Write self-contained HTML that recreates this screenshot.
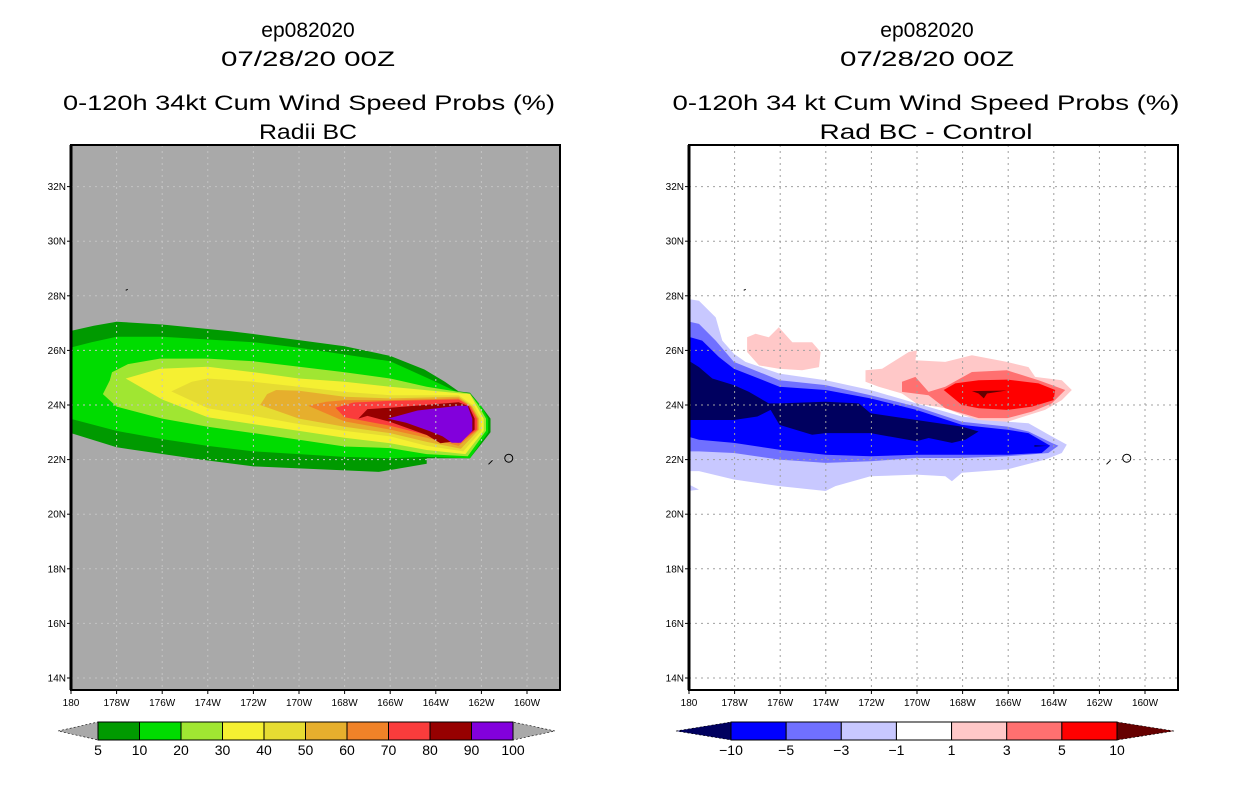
<!DOCTYPE html>
<html><head><meta charset="utf-8"><style>
html,body{margin:0;padding:0;background:#fff;}
svg{display:block;font-family:"Liberation Sans",sans-serif;}
</style></head><body>
<svg id="chart" width="1236" height="800" viewBox="0 0 1236 800" xmlns="http://www.w3.org/2000/svg">
<defs>
<clipPath id="clipL"><rect x="71" y="145" width="489" height="545"/></clipPath>
<clipPath id="clipR"><rect x="689" y="145" width="489" height="545"/></clipPath>
</defs>
<g id="titles" font-size="21" text-anchor="middle" fill="#000">
<text x="308" y="37">ep082020</text>
<text x="308" y="66" textLength="174" lengthAdjust="spacingAndGlyphs">07/28/20 00Z</text>
<text x="309" y="110" textLength="492" lengthAdjust="spacingAndGlyphs">0-120h 34kt Cum Wind Speed Probs (%)</text>
<text x="308" y="139" textLength="98" lengthAdjust="spacingAndGlyphs">Radii BC</text>
<text x="927" y="37">ep082020</text>
<text x="927" y="66" textLength="174" lengthAdjust="spacingAndGlyphs">07/28/20 00Z</text>
<text x="926" y="110" textLength="507" lengthAdjust="spacingAndGlyphs">0-120h 34 kt Cum Wind Speed Probs (%)</text>
<text x="926" y="139" textLength="213" lengthAdjust="spacingAndGlyphs">Rad BC - Control</text>
</g>
<g id="panelL"></g>
<g id="panelR"></g>
<g id="cbars"></g>
</svg>
<script>
// ---- data (lon in degrees W, lat in degrees N) ----
const lonTicks = [180,178,176,174,172,170,168,166,164,162,160];
const latTicks = [14,16,18,20,22,24,26,28,30,32];
const probLevels = [5,10,20,30,40,50,60,70,80,90,100];
const probColors = ["#009a00","#00dc00","#a0e632","#f5f032","#e6dc32","#e6af2d","#f08228","#fa3c3c","#960000","#8200dc"];
const prob5 = [[180.5,26.62],[179,26.9],[178,27.05],[176,26.95],[173,26.7],[172,26.6],[168,26.15],[166,25.8],[164.5,25.3],[163.6,24.85],[163,24.5],[162.5,24.45],[162,23.95],[161.6,23.5],[161.6,23.0],[162.5,22.05],[164.4,22.05],[164.4,21.85],[165.8,21.65],[166.5,21.55],[172,21.75],[174.3,22.0],[178,22.45],[180.5,23.1]];
const prob10 = [[180.5,26.0],[179.1,26.3],[178,26.5],[176,26.5],[174,26.4],[172,26.3],[170,26.1],[168,25.85],[166,25.6],[164.4,25.0],[163.5,24.65],[163,24.45],[162.5,24.4],[162,23.95],[161.7,23.5],[161.7,23.0],[162.5,22.05],[164.4,22.1],[166,22.05],[168,22.1],[170,22.2],[172,22.3],[174,22.5],[176,22.75],[178,23.05],[180.5,23.6]];
const prob20 = [[178.3,24.9],[178.2,25.2],[177.5,25.5],[176.1,25.7],[174,25.7],[172,25.6],[170,25.4],[168,25.2],[166,24.97],[164.4,24.67],[163,24.48],[162.5,24.42],[162.1,23.95],[161.8,23.5],[161.8,23.05],[162.6,22.12],[164.4,22.2],[166,22.42],[168,22.48],[170,22.73],[172,22.97],[174,23.2],[176,23.5],[178,23.94],[178.6,24.4]];
const prob30 = [[177.6,24.97],[176.1,25.33],[174,25.4],[172,25.2],[170,24.97],[168,24.85],[166,24.67],[163,24.43],[162.5,24.4],[162.2,23.95],[161.9,23.5],[161.9,23.05],[162.7,22.2],[164.4,22.35],[166,22.6],[168,22.8],[170,23.05],[172,23.3],[174,23.55],[176,24.2]];
const prob40 = [[175.6,24.5],[174.7,24.85],[174,24.97],[172,24.85],[170,24.67],[168,24.48],[166,24.36],[163,24.36],[162.3,23.95],[162,23.5],[162,23.05],[162.8,22.3],[164.4,22.5],[166,22.85],[168,23.05],[170,23.3],[172,23.6],[174,23.88]];
const prob50 = [[171.7,24.0],[171.4,24.4],[171,24.55],[170,24.52],[168,24.3],[166,24.24],[163,24.3],[162.4,23.95],[162.1,23.5],[162.1,23.1],[162.9,22.4],[164.4,22.65],[166,22.97],[168,23.2],[170,23.5]];
const prob60 = [[169.6,23.97],[168.8,24.12],[168,24.18],[166,24.18],[163,24.24],[162.45,23.95],[162.15,23.5],[162.15,23.1],[163.0,22.5],[164.4,22.8],[166,23.1],[168,23.4]];
const prob70 = [[168.4,23.9],[167.6,24.09],[166,24.15],[163,24.2],[162.5,23.95],[162.2,23.5],[162.2,23.1],[163.0,22.6],[164.4,22.9],[166,23.24],[168,23.55]];
const prob80 = [[167.4,23.5],[167,23.85],[166,23.9],[163,24.1],[162.55,23.95],[162.3,23.5],[162.3,23.1],[162.9,22.7],[163.8,22.6],[164.4,22.9],[166,23.38],[167,23.6]];
const prob90 = [[166.1,23.5],[164.8,23.8],[163,23.97],[162.6,23.97],[162.4,23.5],[162.4,23.05],[162.9,22.62],[163.3,22.62],[163.7,22.85],[164.3,23.05],[165.3,23.35]];
const probSeries = [prob5,prob10,prob20,prob30,prob40,prob50,prob60,prob70,prob80,prob90];

const diffLevels = [-10,-5,-3,-1,1,3,5,10];
const diffColors = ["#00005f","#0000ff","#7070ff","#c8c8ff","#ffffff","#ffc8c8","#ff7070","#ff0000","#660000"];
const diffNeg1 = [[180.5,27.94],[179.56,27.82],[178.83,27.21],[178.54,26.36],[178.03,25.88],[177.52,25.58],[176.03,25.15],[174.01,24.91],[172.04,24.55],[170.03,24.06],[168.03,23.58],[166.03,23.39],[165.11,23.33],[164.09,22.85],[163.43,22.55],[163.65,22.24],[164.38,22.0],[166.03,21.64],[168.03,21.52],[168.47,21.21],[168.76,21.39],[170.03,21.45],[172.04,21.39],[173.58,21.03],[174.01,20.85],[176.03,21.03],[178.03,21.27],[179.56,21.58],[180.5,21.58]];
const diffNeg1b = [[180.5,21.3],[179.56,20.9],[180.5,20.8]];
const diffNeg3 = [[180.5,27.15],[179.56,26.97],[178.83,26.36],[178.03,25.58],[176.03,24.91],[174.01,24.73],[172.04,24.36],[170.03,23.94],[168.03,23.39],[166.03,23.21],[165.11,23.03],[164.09,22.61],[163.8,22.51],[164.24,22.24],[166.03,22.12],[168.03,22.06],[170.03,22.06],[172.04,21.94],[174.01,21.88],[176.03,22.0],[178.03,22.24],[179.56,22.3],[180.5,22.3]];
const diffNeg5 = [[180.5,26.61],[179.42,26.36],[178.69,25.76],[178.03,25.33],[176.03,24.67],[174.01,24.55],[172.04,24.24],[170.03,23.82],[168.03,23.27],[166.03,23.09],[165.11,22.97],[164.16,22.51],[164.53,22.24],[166.03,22.18],[168.03,22.18],[170.03,22.18],[172.04,22.12],[174.01,22.18],[176.03,22.36],[178.03,22.61],[179.56,22.73],[180.5,22.95]];
const diffNeg10 = [[180.5,25.88],[179.56,25.39],[178.98,24.97],[178.03,24.73],[177.37,24.48],[176.5,24.06],[176.03,24.06],[174.01,24.12],[172.55,24.06],[172.04,23.7],[170.03,23.45],[168.03,23.21],[167.3,23.03],[167.88,22.73],[168.47,22.61],[169.49,22.79],[170.03,22.67],[172.04,22.97],[174.01,22.97],[174.6,22.91],[176.03,23.27],[176.42,23.82],[177.0,23.58],[178.03,23.45],[180.5,23.45]];
const diffNeg10b = [[164.85,22.53],[164.3,22.5],[164.85,22.47]];
const diffPos1a = [[177.45,26.48],[177.08,26.61],[176.5,26.48],[176.06,26.85],[175.47,26.3],[174.6,26.3],[174.23,25.94],[174.3,25.39],[175.04,25.27],[176.06,25.33],[176.93,25.45],[177.45,25.94]];
const diffPos1b = [[172.26,25.27],[171.53,25.33],[170.36,25.94],[170.0,26.0],[170.07,25.64],[168.76,25.58],[167.59,25.82],[166.06,25.58],[165.11,25.39],[164.82,25.03],[163.65,24.91],[163.21,24.55],[163.65,24.18],[164.38,23.82],[166.03,23.39],[167.3,23.45],[168.03,23.64],[168.76,23.88],[170.03,24.06],[170.66,24.42],[171.68,24.67],[172.26,24.85]];
const diffPos3 = [[170.66,24.85],[170.07,25.03],[169.49,24.48],[168.76,24.67],[167.59,25.21],[166.06,25.27],[164.67,24.91],[163.5,24.55],[164.09,24.06],[164.96,23.76],[166.03,23.52],[167.3,23.52],[168.03,23.7],[168.76,23.88],[169.49,24.36],[170.66,24.48]];
const diffPos5 = [[168.83,24.55],[168.32,24.79],[167.3,24.91],[166.03,24.93],[164.67,24.79],[163.94,24.55],[164.01,24.18],[164.96,23.94],[166.03,23.82],[167.3,23.88],[168.03,24.0],[168.47,24.3]];
const diffPos10 = [[167.59,24.51],[166.06,24.53],[166.93,24.42],[167.07,24.24],[167.3,24.42]];
const diffSeries = [[diffNeg1,3],[diffNeg1b,3],[diffNeg3,2],[diffNeg5,1],[diffNeg10,0],[diffNeg10b,0],[diffPos1a,5],[diffPos1b,5],[diffPos3,6],[diffPos5,7],[diffPos10,8]];

// ---- drawing ----
const NS = "http://www.w3.org/2000/svg";
function el(tag, attrs, parent){const e=document.createElementNS(NS,tag);for(const k in attrs)e.setAttribute(k,attrs[k]);parent.appendChild(e);return e;}
const PX = 22.8, PY = 27.3;
function makeX(x0){return lon => x0 + PX*(180-lon);}
function yScale(lat){return 405 - PY*(lat-24);}
function pts(poly, xs){return poly.map(p=>xs(p[0]).toFixed(1)+","+yScale(p[1]).toFixed(1)).join(" ");}

function drawPanel(g, x0, clipId, bg, gridColor){
  const xs = makeX(x0);
  const clip = el("g",{"clip-path":"url(#"+clipId+")"},g);
  const bgr = el("rect",{x:x0,y:145,width:489,height:545,fill:bg},clip);
  
  
  return {xs, clip};
}
function drawAxes(g, x0, xs, gridColor, clip){
  // grid
  lonTicks.forEach(l=>{ if(l===180) return;
    const ln = el("line",{x1:xs(l),x2:xs(l),y1:145,y2:690,stroke:gridColor,"stroke-width":1,"stroke-dasharray":"2,4"},clip);
    
    
  });
  latTicks.forEach(l=>{
    const ln = el("line",{x1:x0,x2:x0+489,y1:yScale(l),y2:yScale(l),stroke:gridColor,"stroke-width":1,"stroke-dasharray":"2,4"},clip);
    
    
  });
  const fr = el("rect",{x:x0,y:145,width:489,height:545,fill:"none",stroke:"#000","stroke-width":2},g);
  
  
  el("line",{x1:x0,x2:x0,y1:145,y2:690,stroke:"#000","stroke-width":3},g);
  lonTicks.forEach(l=>{
    el("line",{x1:xs(l),x2:xs(l),y1:690,y2:694,stroke:"#000"},g);
    const t = el("text",{x:xs(l),y:706,"font-size":10,"text-anchor":"middle"},g);
    t.textContent = l===180 ? "180" : l+"W";
    
    
  });
  latTicks.forEach(l=>{
    el("line",{x1:x0-4,x2:x0,y1:yScale(l),y2:yScale(l),stroke:"#000"},g);
    const t = el("text",{x:x0-5,y:yScale(l)+3.5,"font-size":10,"text-anchor":"end"},g);
    t.textContent = l+"N";
    
    
  });
  // island coast marks
  const isl = el("g",{fill:"none",stroke:"#000","stroke-width":1},clip);
  
  
  el("ellipse",{cx:xs(160.8),cy:yScale(22.05),rx:4,ry:4},isl);
  el("line",{x1:xs(161.6)-2,y1:yScale(21.9)+2,x2:xs(161.6)+2,y2:yScale(21.9)-2},isl);
  el("line",{x1:xs(177.6),y1:yScale(28.2),x2:xs(177.6)+2,y2:yScale(28.2)-1},isl);
}

// Left panel
const gL = document.getElementById("panelL");
const L = drawPanel(gL, 71, "clipL", "#a9a9a9");
probSeries.forEach((poly,i)=>{
  const p = el("polygon",{points:pts(poly,L.xs),fill:probColors[i]},L.clip);
  
  
});
drawAxes(gL, 71, L.xs, "#c4c4c4", L.clip);

// Right panel
const gR = document.getElementById("panelR");
const R = drawPanel(gR, 689, "clipR", "#ffffff");
diffSeries.forEach(([poly,ci])=>{
  const p = el("polygon",{points:pts(poly,R.xs),fill:diffColors[ci]},R.clip);
  
  
});
drawAxes(gR, 689, R.xs, "#a0a0a0", R.clip);

// Colorbars
const cb = document.getElementById("cbars");
function colorbar(x0, x1, tipL, tipR, colors, labels, leftTipColor, rightTipColor, name){
  const g = el("g",{},cb);
  
  
  const y0=722, y1=740, ym=731;
  const n = colors.length, w=(x1-x0)/n;
  el("polygon",{points:`${tipL},${ym} ${x0},${y0} ${x0},${y1}`,fill:leftTipColor,stroke:"#000","stroke-width":0.6,"stroke-dasharray":"2,2"},g);
  el("polygon",{points:`${tipR},${ym} ${x1},${y0} ${x1},${y1}`,fill:rightTipColor,stroke:"#000","stroke-width":0.6,"stroke-dasharray":"2,2"},g);
  colors.forEach((c,i)=>{
    const r = el("rect",{x:x0+i*w,y:y0,width:w,height:y1-y0,fill:c,stroke:"#000","stroke-width":1},g);
    
    
  });
  labels.forEach((lb,i)=>{
    const t = el("text",{x:x0+i*w,y:755,"font-size":14,"text-anchor":"middle"},g);
    t.textContent = String(lb).replace("-","\u2212");
    
    
  });
}
colorbar(98, 513, 58, 555, probColors, probLevels, "#a9a9a9", "#a9a9a9", "prob-colorbar");
colorbar(731, 1117, 676, 1174, diffColors.slice(1,8), diffLevels, diffColors[0], diffColors[8], "diff-colorbar");
</script>
</body></html>
